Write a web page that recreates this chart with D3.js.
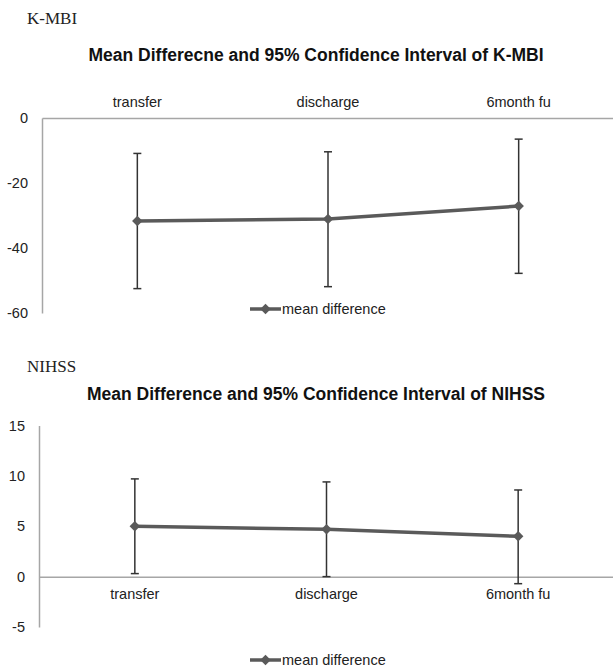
<!DOCTYPE html>
<html>
<head>
<meta charset="utf-8">
<script src="https://cdn.jsdelivr.net/npm/d3@7"></script>
<style>
  body { margin: 0; background: #fff; }
  svg { display: block; }
</style>
</head>
<body>
<div id="chart-container"></div>
<script>
// data
const categories = ["transfer", "discharge", "6month fu"];

const kmbiMean  = [-31.7, -31.1, -27.1];
const kmbiUpper = [-10.9, -10.4, -6.5];
const kmbiLower = [-52.5, -51.9, -47.8];
const kmbiTicks = [0, -20, -40, -60];

const nihssMean  = [5.0, 4.7, 4.0];
const nihssUpper = [9.7, 9.4, 8.6];
const nihssLower = [0.3, 0.0, -0.7];
const nihssTicks = [15, 10, 5, 0, -5];

const W = 613, H = 669;
const font = "Arial, 'Liberation Sans', sans-serif";

const svg = d3.select("#chart-container")
  .append("svg")
  .attr("width", W)
  .attr("height", H);

function drawChart(opt) {
  const g = svg.append("g");

  const x = d3.scaleBand()
    .domain(categories)
    .range([opt.left, opt.right]);

  const y = d3.scaleLinear()
    .domain(opt.domain)
    .range([opt.top, opt.bottom]);

  // section label (serif)
  g.append("text")
    .attr("x", 27).attr("y", opt.labelY)
    .attr("font-family", "'Liberation Serif', 'Times New Roman', serif")
    .attr("font-size", 17)
    .attr("fill", "#222")
    .text(opt.label);

  g.append("text")
    .attr("x", 316).attr("y", opt.titleY)
    .attr("text-anchor", "middle")
    .attr("font-family", font)
    .attr("font-weight", "bold")
    .attr("font-size", 17.5)
    .attr("fill", "#111")
    .text(opt.title);

  // value axis (plain hyphen minus like the original)
  const yAxis = g.append("g")
    .attr("transform", `translate(${opt.left},0)`)
    .call(d3.axisLeft(y).tickValues(opt.ticks).tickSize(0).tickPadding(14)
      .tickFormat(d => String(d)));
  yAxis.select(".domain").attr("stroke", "#a6a6a6").attr("stroke-width", 1.5);
  yAxis.selectAll("text")
    .attr("font-family", font)
    .attr("font-size", 14.5)
    .attr("fill", "#222");

  // category axis at zero
  const xAxis = g.append("g")
    .attr("transform", `translate(0,${y(0)})`)
    .call(d3.axisBottom(x).tickSize(0).tickPadding(opt.catPad));
  xAxis.select(".domain").attr("stroke", "#a6a6a6").attr("stroke-width", 1.5);
  xAxis.selectAll("text")
    .attr("font-family", font)
    .attr("font-size", 14.5)
    .attr("fill", "#222");

  const rows = categories.map((c, i) => ({
    cat: c, mean: opt.mean[i], hi: opt.upper[i], lo: opt.lower[i]
  }));
  const cx = d => x(d.cat) + x.bandwidth() / 2;

  // error bars
  const bars = g.append("g")
    .attr("stroke", "#333")
    .attr("stroke-width", 1.5);
  bars.selectAll("line.v").data(rows).join("line")
    .attr("class", "v")
    .attr("x1", cx).attr("x2", cx)
    .attr("y1", d => y(d.hi)).attr("y2", d => y(d.lo));
  bars.selectAll("line.hi").data(rows).join("line")
    .attr("class", "hi")
    .attr("x1", d => cx(d) - 4).attr("x2", d => cx(d) + 4)
    .attr("y1", d => y(d.hi)).attr("y2", d => y(d.hi));
  bars.selectAll("line.lo").data(rows).join("line")
    .attr("class", "lo")
    .attr("x1", d => cx(d) - 4).attr("x2", d => cx(d) + 4)
    .attr("y1", d => y(d.lo)).attr("y2", d => y(d.lo));

  // mean line
  g.append("path")
    .datum(rows)
    .attr("fill", "none")
    .attr("stroke", "#5a5a5a")
    .attr("stroke-width", 3.5)
    .attr("d", d3.line().x(cx).y(d => y(d.mean)));

  const diamond = d3.symbol().type(d3.symbolDiamond2).size(70);
  g.selectAll("path.marker").data(rows).join("path")
    .attr("class", "marker")
    .attr("transform", d => `translate(${cx(d)},${y(d.mean)})`)
    .attr("d", diamond)
    .attr("fill", "#5a5a5a");

  // legend
  const lg = g.append("g").attr("transform", `translate(250,${opt.legendY})`);
  lg.append("line")
    .attr("x1", 0).attr("x2", 31)
    .attr("stroke", "#5a5a5a").attr("stroke-width", 3.5);
  lg.append("path")
    .attr("transform", "translate(15.5,0)")
    .attr("d", diamond)
    .attr("fill", "#5a5a5a");
  lg.append("text")
    .attr("x", 32).attr("dy", "0.35em")
    .attr("font-family", font)
    .attr("font-size", 14.5)
    .attr("fill", "#222")
    .text("mean difference");
}

drawChart({
  label: "K-MBI",
  labelY: 24,
  title: "Mean Differecne and 95% Confidence Interval of K-MBI",
  titleY: 61,
  left: 42, right: 614,
  top: 118, bottom: 313,
  domain: [0, -60],
  ticks: kmbiTicks,
  catPad: -21,
  mean: kmbiMean, upper: kmbiUpper, lower: kmbiLower,
  legendY: 309
});

drawChart({
  label: "NIHSS",
  labelY: 372,
  title: "Mean Difference and 95% Confidence Interval of NIHSS",
  titleY: 400,
  left: 39, right: 614,
  top: 425.5, bottom: 627,
  domain: [15, -5],
  ticks: nihssTicks,
  catPad: 12,
  mean: nihssMean, upper: nihssUpper, lower: nihssLower,
  legendY: 660
});
</script>
</body>
</html>
